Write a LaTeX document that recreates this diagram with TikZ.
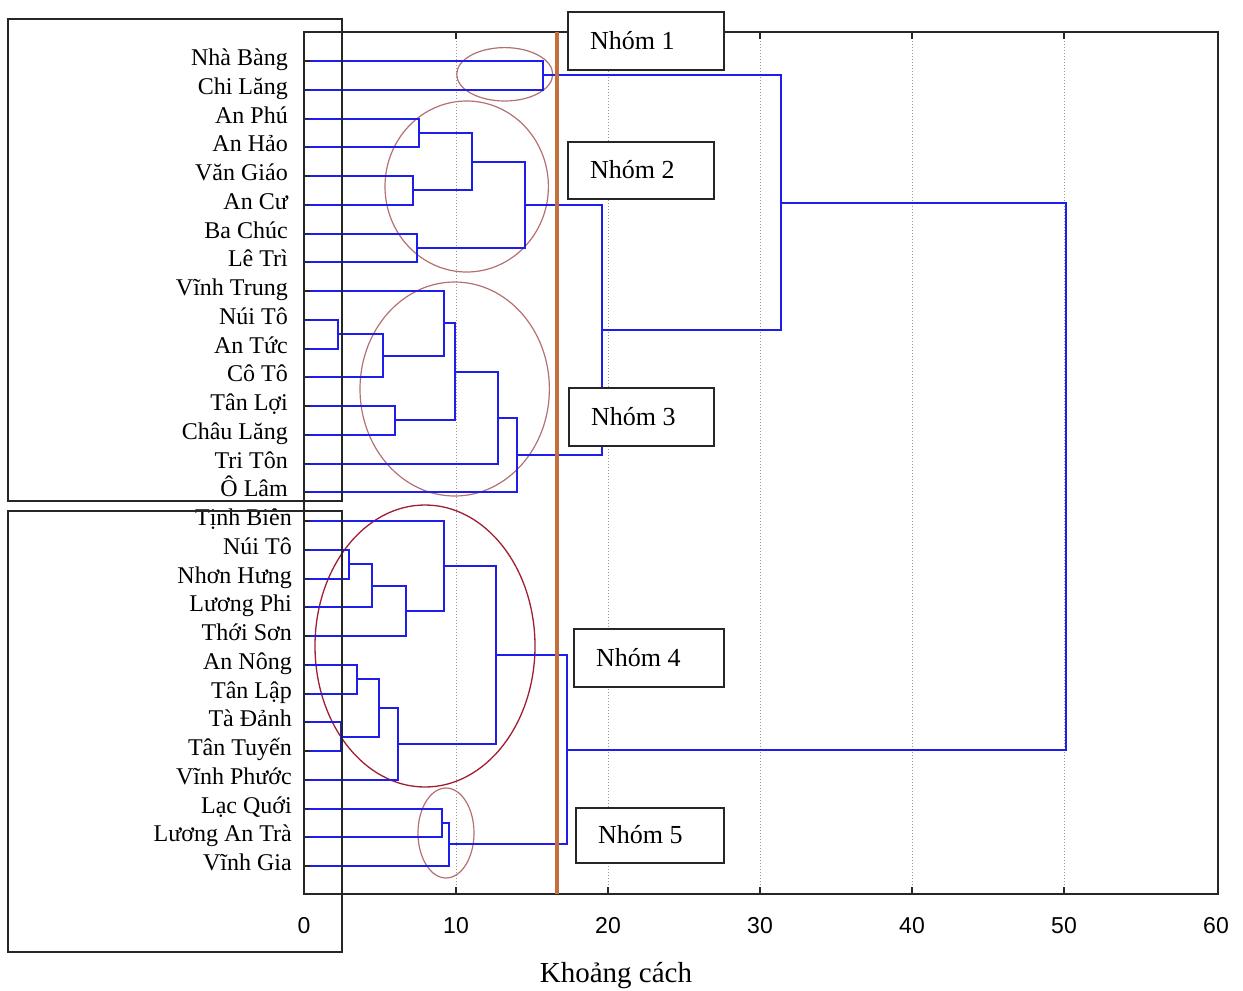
\documentclass[tikz,border=0pt]{standalone}
\usepackage{fontspec}
\setmainfont{Liberation Serif}
\newfontfamily\axisfont{Liberation Sans}
\definecolor{dblue}{RGB}{30,30,235}
\definecolor{cutbrown}{RGB}{195,112,62}
\definecolor{ellbrown}{RGB}{180,112,112}
\definecolor{ellred}{RGB}{160,30,50}
\definecolor{gridgray}{RGB}{150,150,150}
\begin{document}
\begin{tikzpicture}[x=1pt,y=-1pt,
  dendro/.style={draw=dblue, line width=2pt},
  leaf/.style={anchor=base east, inner sep=0pt, font=\fontsize{24}{28}\selectfont},
  ticklab/.style={anchor=base, inner sep=0pt, font=\axisfont\fontsize{23}{26}\selectfont},
  gridline/.style={draw=gridgray, line width=1pt, dotted},
  frame/.style={draw=black!85, line width=1.5pt},
  grpbox/.style={draw=black!85, line width=1.5pt},
  nbox/.style={draw=black!85, fill=white, line width=1.5pt, anchor=north west, inner sep=0pt},
  ntext/.style={anchor=base west, inner sep=0pt, font=\fontsize{26}{30}\selectfont},
  ell/.style={draw=ellbrown, line width=1.2pt},
  ellr/.style={draw=ellred, line width=1.3pt},
]
\useasboundingbox (0,0) rectangle (1243,991);

% gridlines
\foreach \v in {10,20,30,40,50} {
  \draw[gridline] ({304+15.2*\v},32) -- ({304+15.2*\v},894);
}

% ellipses
\draw[ell] (504.7,74.3) ellipse [x radius=48pt, y radius=26.7pt];
\draw[ell] (466.7,186.5) ellipse [x radius=81.7pt, y radius=85.5pt];
\draw[ell] (454.7,389) ellipse [x radius=94.7pt, y radius=107pt];
\draw[ellr] (425,646) ellipse [x radius=110pt, y radius=141pt];
\draw[ell] (446,833) ellipse [x radius=28pt, y radius=45pt];

% leaves
\foreach \i/\t in {0/Nhà Bàng,1/Chi Lăng,2/An Phú,3/An Hảo,4/Văn Giáo,5/An Cư,6/Ba Chúc,7/Lê Trì,8/Vĩnh Trung,9/Núi Tô,10/An Tức,11/Cô Tô,12/Tân Lợi,13/Châu Lăng,14/Tri Tôn,15/Ô Lâm,16/Tịnh Biên,17/Núi Tô,18/Nhơn Hưng,19/Lương Phi,20/Thới Sơn,21/An Nông,22/Tân Lập,23/Tà Đảnh,24/Tân Tuyến,25/Vĩnh Phước,26/Lạc Quới,27/Lương An Trà,28/Vĩnh Gia} {
  \pgfmathsetmacro\yy{61+28.75*\i}
  \pgfmathsetmacro\xx{\i<16 ? 288 : 292}
  \coordinate (L\i) at (304,\yy);
  \node[leaf] (t\i) at (\xx,\yy+4.5) {\t};
}

% merge points
\coordinate (m1)   at (543.3,75.4);
\coordinate (m2a)  at (419,132.9);
\coordinate (m2b)  at (412.7,190.4);
\coordinate (m2c)  at (471.7,161.6);
\coordinate (m2d)  at (417.3,247.9);
\coordinate (m2)   at (525,204.7);
\coordinate (m3a)  at (338.3,334.1);
\coordinate (m3b)  at (382.7,355.7);
\coordinate (m3c)  at (444,323.3);
\coordinate (m3d)  at (395,420.4);
\coordinate (m3e)  at (455,371.9);
\coordinate (m3f)  at (498.3,417.7);
\coordinate (m3)   at (516.7,455);
\coordinate (m23)  at (601.7,329.9);
\coordinate (m123) at (781,202.6);
\coordinate (m4a)  at (349.3,564.1);
\coordinate (m4b)  at (372,585.7);
\coordinate (m4c)  at (406,610.8);
\coordinate (m4d)  at (444,565.9);
\coordinate (m4e)  at (356.7,679.1);
\coordinate (m4f)  at (340.7,736.6);
\coordinate (m4g)  at (379.3,707.9);
\coordinate (m4h)  at (398.3,743.8);
\coordinate (m4)   at (496,654.9);
\coordinate (m5a)  at (441.7,822.9);
\coordinate (m5)   at (449.3,844.4);
\coordinate (m45)  at (566.7,749.6);
\coordinate (root) at (1066,476);

\newcommand\mrg[3]{\draw[dendro] (#1) -- (#1 -| #3) -- (#2 -| #3) -- (#2);}
\mrg{L0}{L1}{m1}
\mrg{L2}{L3}{m2a}
\mrg{L4}{L5}{m2b}
\mrg{m2a}{m2b}{m2c}
\mrg{L6}{L7}{m2d}
\mrg{m2c}{m2d}{m2}
\mrg{L9}{L10}{m3a}
\mrg{m3a}{L11}{m3b}
\mrg{L8}{m3b}{m3c}
\mrg{L12}{L13}{m3d}
\mrg{m3c}{m3d}{m3e}
\mrg{m3e}{L14}{m3f}
\mrg{m3f}{L15}{m3}
\mrg{m2}{m3}{m23}
\mrg{m1}{m23}{m123}
\mrg{L17}{L18}{m4a}
\mrg{m4a}{L19}{m4b}
\mrg{m4b}{L20}{m4c}
\mrg{L16}{m4c}{m4d}
\mrg{L21}{L22}{m4e}
\mrg{L23}{L24}{m4f}
\mrg{m4e}{m4f}{m4g}
\mrg{m4g}{L25}{m4h}
\mrg{m4d}{m4h}{m4}
\mrg{L26}{L27}{m5a}
\mrg{m5a}{L28}{m5}
\mrg{m4}{m5}{m45}
\mrg{m123}{m45}{root}

% y ticks
\foreach \i in {0,...,28} { \draw[black!85, line width=1.2pt] (L\i) -- ++(6,0); }

% plot frame and x ticks
\draw[frame] (304,32) rectangle (1218,894);
\foreach \v in {10,20,30,40,50} {
  \draw[black!85, line width=1.3pt] ({304+15.2*\v},894) -- ++(0,-7);
  \draw[black!85, line width=1.3pt] ({304+15.2*\v},32) -- ++(0,7);
}
\foreach \v in {0,10,20,30,40,50,60} {
  \node[ticklab] (x\v) at ({304+15.2*\v},933) {\v};
}

% group rectangles
\draw[grpbox] (8,19) rectangle (342,501);
\draw[grpbox] (8,511) rectangle (342,952);

% cut line
\coordinate (cutT) at (556.7,32);
\coordinate (cutB) at (556.7,894);
\draw[draw=cutbrown, line width=4pt] (cutT) -- (cutB);

% group labels
\node[nbox, minimum width=156pt, minimum height=58pt] (nb1) at (567,11) {};
\node[ntext] (nt1) at ([xshift=23pt,yshift=-8.6pt]nb1.west) {Nhóm 1};
\node[nbox, minimum width=146pt, minimum height=57pt] (nb2) at (567,141) {};
\node[ntext] (nt2) at ([xshift=23pt,yshift=-8.6pt]nb2.west) {Nhóm 2};
\node[nbox, minimum width=145pt, minimum height=58pt] (nb3) at (568,387) {};
\node[ntext] (nt3) at ([xshift=23pt,yshift=-8.6pt]nb3.west) {Nhóm 3};
\node[nbox, minimum width=150pt, minimum height=58pt] (nb4) at (573,628) {};
\node[ntext] (nt4) at ([xshift=23pt,yshift=-8.6pt]nb4.west) {Nhóm 4};
\node[nbox, minimum width=148pt, minimum height=55pt] (nb5) at (575,807) {};
\node[ntext] (nt5) at ([xshift=23pt,yshift=-8.6pt]nb5.west) {Nhóm 5};

% axis title
\node[anchor=base, inner sep=0pt, font=\fontsize{29}{33}\selectfont] (xtitle) at (616,982) {Khoảng cách};
\end{tikzpicture}
\end{document}
